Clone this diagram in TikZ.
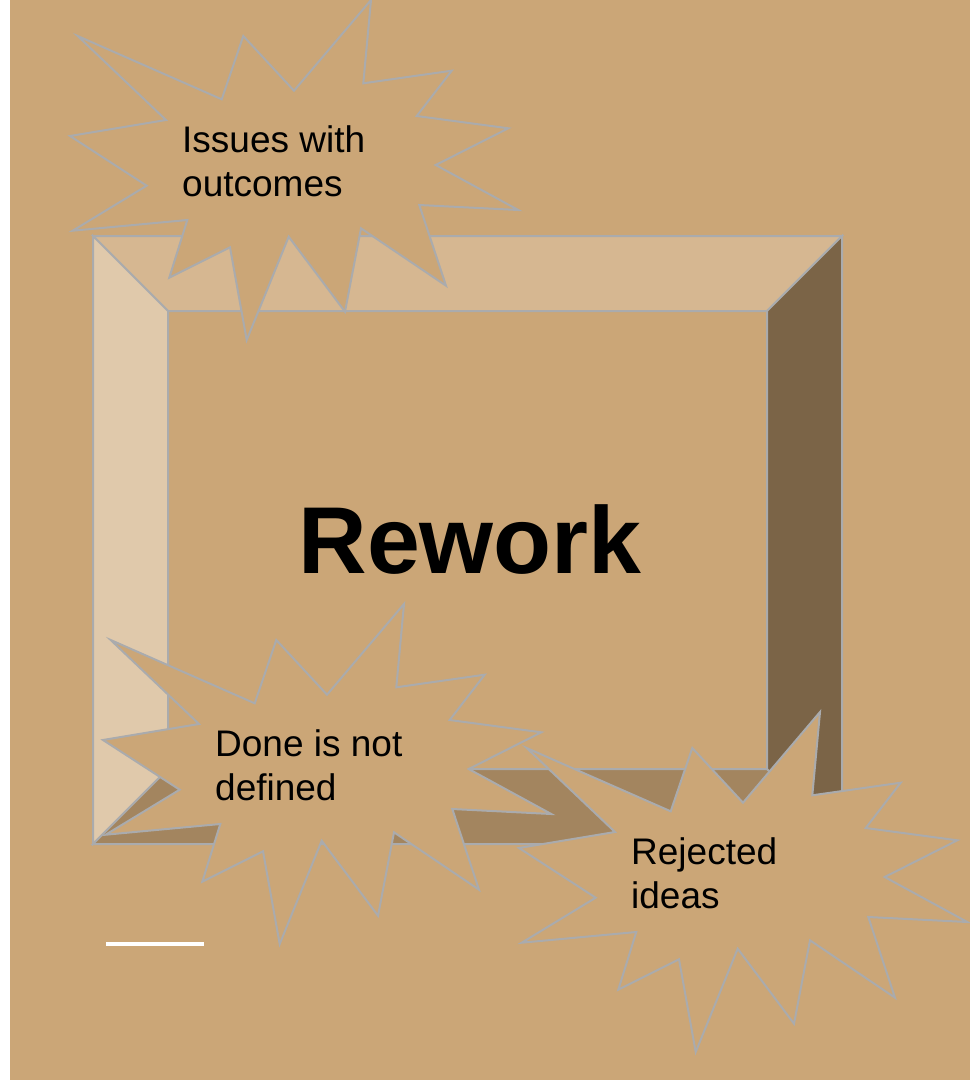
\documentclass[tikz,border=0pt]{standalone}
\usepackage{fontspec}
\setmainfont{Liberation Sans}
\definecolor{bg}{RGB}{203,166,119}
\definecolor{bvtop}{RGB}{214,183,145}
\definecolor{bvleft}{RGB}{224,201,171}
\definecolor{bvright}{RGB}{123,100,71}
\definecolor{bvbottom}{RGB}{163,133,95}
\definecolor{edgegray}{RGB}{170,171,173}
\tikzset{
  bevelface/.style={draw=edgegray, line width=2pt, line join=miter},
  burst/.style={fill=bg, draw=edgegray, line width=2pt, line join=miter},
  bursttext/.style={anchor=base west, inner sep=0pt, text=black,
    font=\fontsize{37}{44}\selectfont},
  title/.style={anchor=base, inner sep=0pt, text=black,
    font=\bfseries\fontsize{95}{95}\selectfont},
  whitebar/.style={draw=white, line width=3.5pt}
}
\newcommand\burstat[5]{%
  \begin{scope}[shift={(#1,#2)}]
    \draw[burst] (371,0) -- (294,90.7) -- (243.3,36) -- (221.7,99.3)
      -- (77.7,36) -- (166,120) -- (70,136) -- (146.7,185.7)
      -- (72.7,230.7) -- (187.3,220) -- (169.3,277.7) -- (230,247.3)
      -- (246.7,340) -- (288.7,236.7) -- (345,311.7) -- (361,228.3)
      -- (446,285.7) -- (419.3,205) -- (518.3,210) -- (435.7,165)
      -- (508.3,128.3) -- (416.7,116) -- (451.7,70.7) -- (363.3,83.3)
      -- cycle;
    \node[bursttext] (#3a) at (182,152) {#4};
    \node[bursttext] (#3b) at (182,196) {#5};
  \end{scope}}
\begin{document}
\begin{tikzpicture}[x=1pt,y=-1pt]
  \useasboundingbox (0,0) rectangle (970,1080);
  \fill[white] (0,0) rectangle (10,1080);
  \fill[bg] (10,0) rectangle (970,1080);
  % bevel frame corners
  \coordinate (otl) at (93,236);
  \coordinate (otr) at (842,236);
  \coordinate (obr) at (842,844);
  \coordinate (obl) at (93,844);
  \coordinate (itl) at (168,311);
  \coordinate (itr) at (767,311);
  \coordinate (ibr) at (767,769);
  \coordinate (ibl) at (168,769);
  \fill[bg] (itl) rectangle (ibr);
  \draw[bevelface, fill=bvtop] (otl) -- (otr) -- (itr) -- (itl) -- cycle;
  \draw[bevelface, fill=bvleft] (otl) -- (itl) -- (ibl) -- (obl) -- cycle;
  \draw[bevelface, fill=bvbottom] (obl) -- (ibl) -- (ibr) -- (obr) -- cycle;
  \draw[bevelface, fill=bvright] (otr) -- (obr) -- (ibr) -- (itr) -- cycle;
  \node[title] (rework) at (470,573) {Rework};
  \burstat{0}{0}{s1}{Issues with}{outcomes}
  \burstat{33}{604}{s2}{Done is not}{defined}
  \burstat{449}{712}{s3}{Rejected}{ideas}
  \coordinate (barL) at (106,944);
  \coordinate (barR) at (204,944);
  \draw[whitebar] (barL) -- (barR);
\end{tikzpicture}
\end{document}
